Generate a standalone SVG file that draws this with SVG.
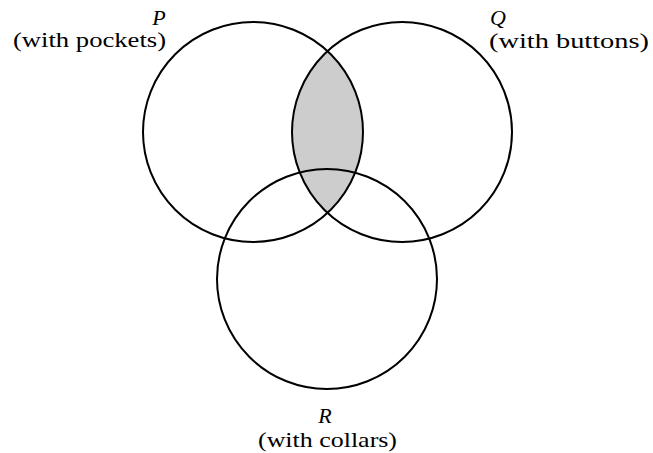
<svg xmlns="http://www.w3.org/2000/svg" width="653" height="453" viewBox="0 0 653 453">
<style>
.c{fill:none;stroke:#000;stroke-width:2}
text{font-family:'Liberation Serif',Tinos,'Times New Roman',Times,serif;font-size:22px;fill:#000}
.i{font-style:italic}
</style>
<defs>
<clipPath id="clipP"><circle cx="253" cy="132" r="110"/></clipPath>
</defs>
<rect width="653" height="453" fill="#fff"/>
<circle cx="402" cy="132" r="110" fill="#cdcdcd" clip-path="url(#clipP)"/>
<g id="P">
<circle class="c" cx="253" cy="132" r="110"/>
<text class="i" x="159" y="25" text-anchor="middle" font-family="Liberation Serif">P</text>
<text x="13" y="47" textLength="153" lengthAdjust="spacingAndGlyphs" font-family="Liberation Serif">(with pockets)</text>
</g>
<g id="Q">
<circle class="c" cx="402" cy="132" r="110"/>
<text class="i" x="498" y="25" text-anchor="middle" font-family="Liberation Serif">Q</text>
<text x="489" y="48" textLength="160" lengthAdjust="spacingAndGlyphs" font-family="Liberation Serif">(with buttons)</text>
</g>
<g id="R">
<circle class="c" cx="327" cy="279" r="110"/>
<text class="i" x="325" y="423" text-anchor="middle" font-family="Liberation Serif">R</text>
<text x="258" y="447" textLength="139" lengthAdjust="spacingAndGlyphs" font-family="Liberation Serif">(with collars)</text>
</g>
<g id="connectors"/>
</svg>
